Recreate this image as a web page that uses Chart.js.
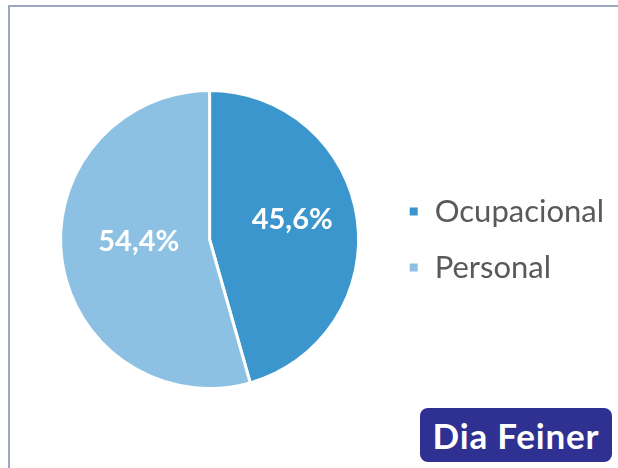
<!DOCTYPE html>
<html lang="es">
  <head>
    <meta charset="UTF-8" />
    <title>Ocupacional vs Personal</title>
    <style>
      body {
        margin: 0;
        background: #fff;
        font-family: Lato, "Open Sans", sans-serif;
      }
      .wrap {
        position: relative;
        width: 618px;
        height: 468px;
        overflow: hidden;
      }
      .frame {
        position: absolute;
        left: 8px;
        top: 5px;
        width: 700px;
        height: 600px;
        border-top: 2px solid #9ea6c6;
        border-left: 2px solid #9ea6c6;
      }
      canvas {
        position: absolute;
        left: 0;
        top: 0;
      }
      .badge {
        position: absolute;
        left: 420px;
        top: 408px;
        width: 192px;
        height: 54px;
        border-radius: 8px;
        background: #2e3192;
        color: #fff;
        font-weight: bold;
        font-size: 35px;
        letter-spacing: 0.8px;
        line-height: 54px;
        text-align: center;
      }
    </style>
    <script src="https://cdn.jsdelivr.net/npm/chart.js"></script>
  </head>
  <body>
    <div class="wrap">
      <div class="frame"></div>
      <canvas id="pie" width="618" height="468"></canvas>
      <div class="badge">Dia Feiner</div>
    </div>
    <script>
      const categories = ["Ocupacional", "Personal"];
      const values = [45.6, 54.4];
      const colors = ["#3a96cd", "#8dc1e3"];

      // percentage labels inside the slices
      const labelRadius = [0.56, 0.48];
      const sliceLabels = {
        id: "sliceLabels",
        afterDatasetsDraw(chart) {
          const ctx = chart.ctx;
          const meta = chart.getDatasetMeta(0);
          ctx.save();
          ctx.fillStyle = "#fff";
          ctx.font = "bold 29px Lato, sans-serif";
          ctx.textAlign = "center";
          ctx.textBaseline = "middle";
          meta.data.forEach((arc, i) => {
            const p = arc.getProps(["x", "y", "startAngle", "endAngle", "outerRadius"], true);
            const mid = (p.startAngle + p.endAngle) / 2;
            const r = p.outerRadius * labelRadius[i];
            const txt = values[i].toFixed(1).replace(".", ",") + "%";
            ctx.fillText(txt, p.x + Math.cos(mid) * r, p.y + Math.sin(mid) * r - 8);
          });
          ctx.restore();
        }
      };

      new Chart(document.getElementById("pie"), {
        type: "pie",
        data: {
          labels: categories,
          datasets: [{
            data: values,
            backgroundColor: colors,
            borderColor: "#fff",
            borderWidth: 3
          }]
        },
        options: {
          responsive: false,
          animation: false,
          layout: { padding: { left: 36, top: 89, bottom: 78, right: 4 } },
          plugins: {
            tooltip: { enabled: false },
            legend: {
              position: "right",
              labels: {
                boxWidth: 11,
                boxHeight: 11,
                padding: 25,
                color: "#595959",
                font: { family: "Lato", size: 31 }
              }
            }
          }
        },
        plugins: [sliceLabels]
      });
    </script>
  </body>
</html>
